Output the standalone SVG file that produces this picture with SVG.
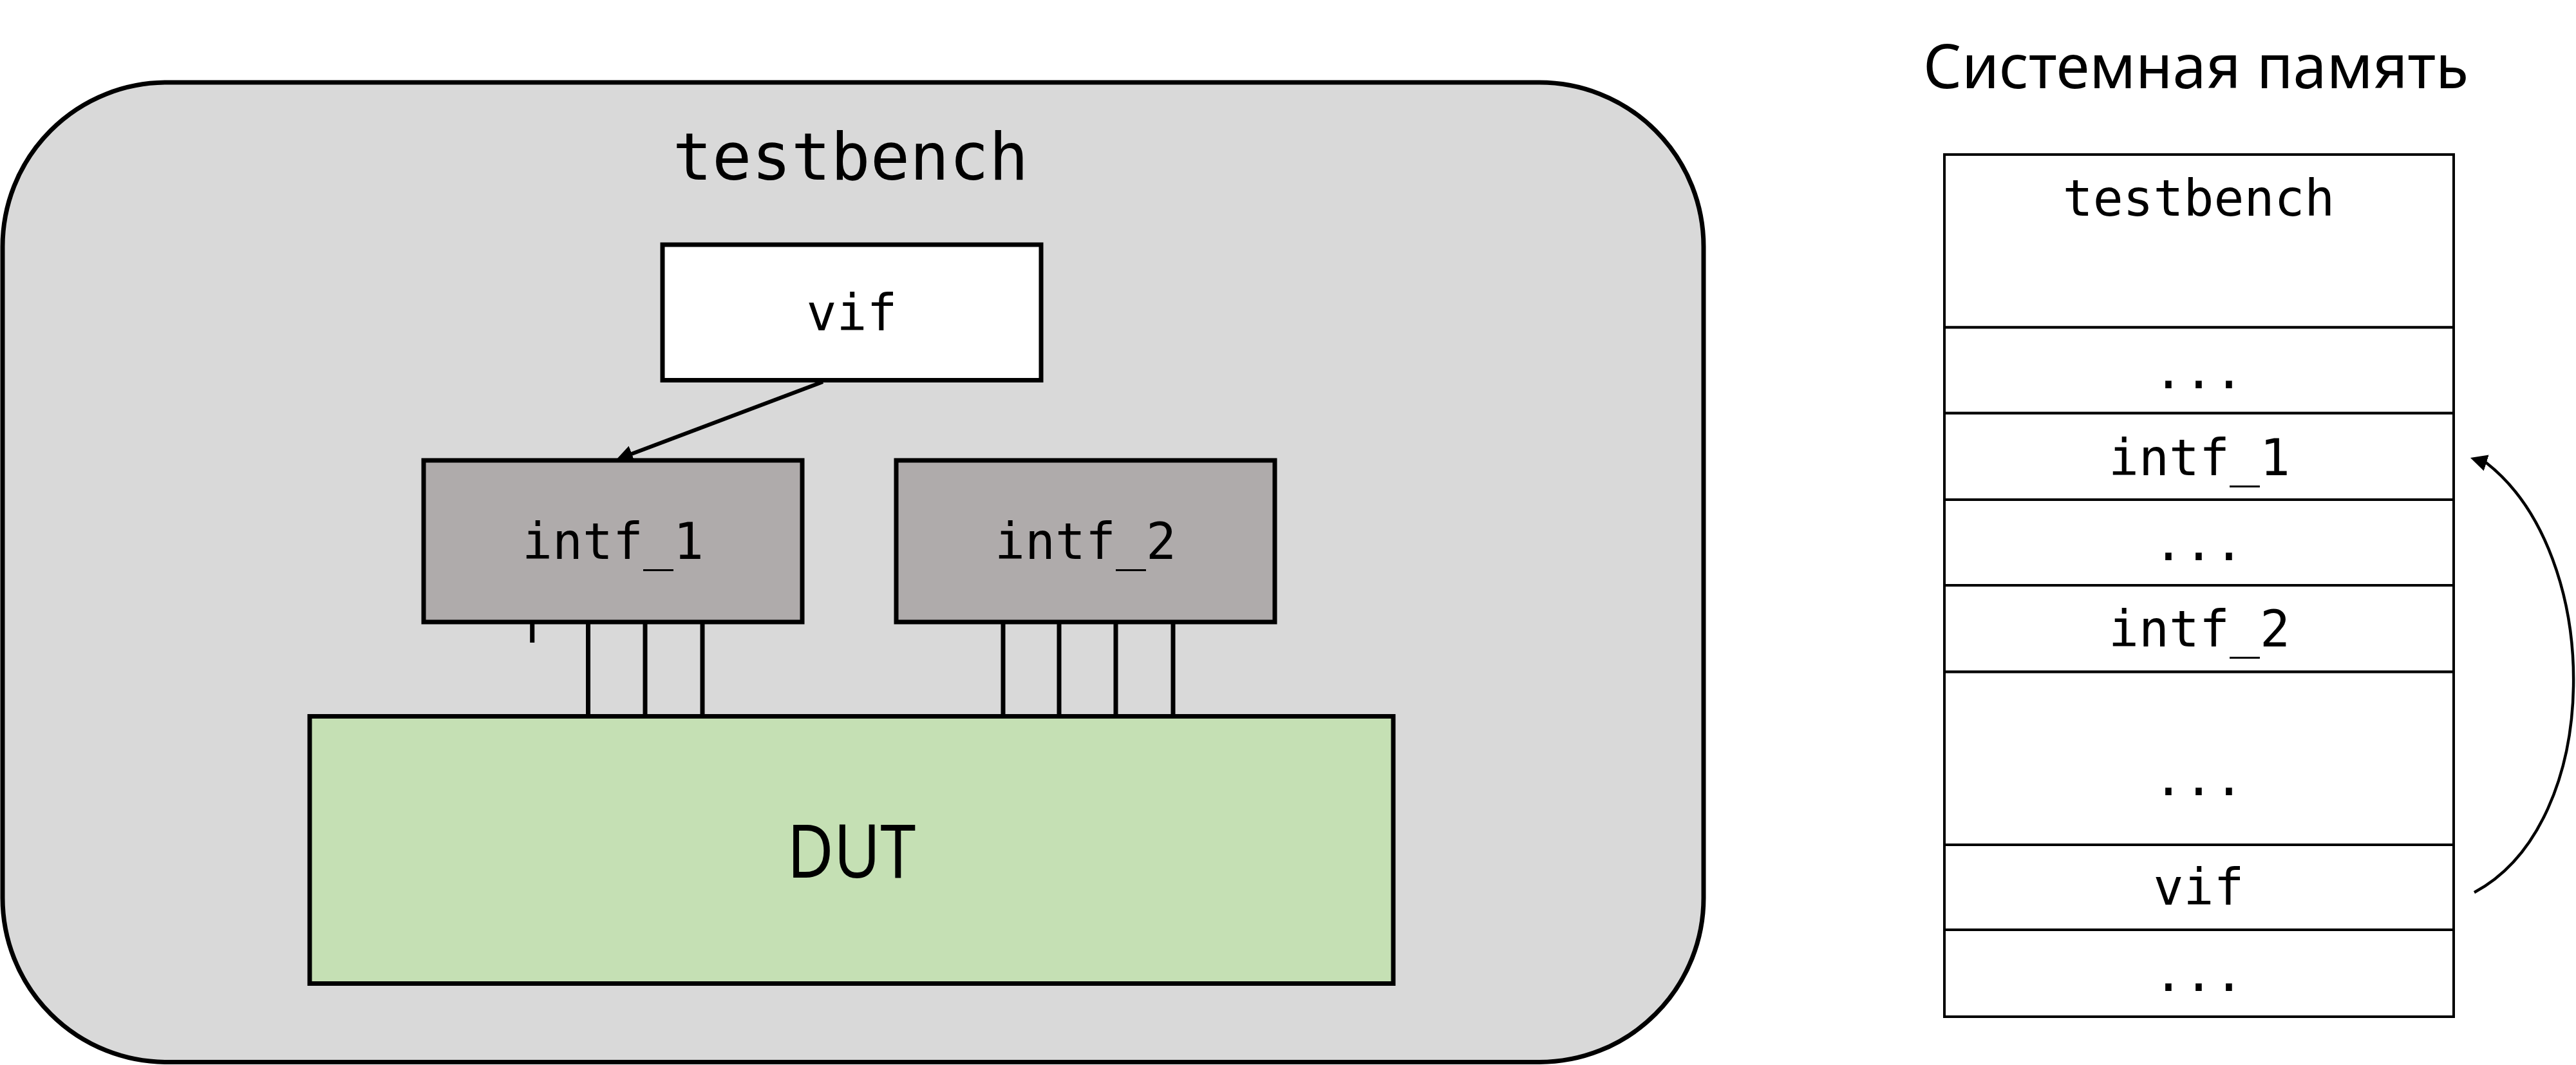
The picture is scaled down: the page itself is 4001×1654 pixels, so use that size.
<svg xmlns="http://www.w3.org/2000/svg" width="4001" height="1654" viewBox="0 0 4001 1654">
<style>
.box{stroke:#000;stroke-width:7}
.mono{font-family:"DejaVu Sans Mono","Liberation Mono",monospace;fill:#000;text-anchor:middle}
.wire{stroke:#000;stroke-width:7;fill:none}
.cell{fill:#fff;stroke:#000;stroke-width:4}
.conn{stroke:#000;fill:none}
</style>
<defs>
<marker id="ah" viewBox="0 0 26 26" markerWidth="26" markerHeight="26" markerUnits="userSpaceOnUse" refX="14" refY="13" orient="auto">
<path d="M0,0 L26,13 L0,26 Z" fill="#000"/>
</marker>
</defs>
<rect width="4001" height="1654" fill="#fff"/>
<g id="testbench">
<rect x="4" y="128" width="2642" height="1521.5" rx="255" ry="255" fill="#D9D9D9" stroke="#000" stroke-width="7"/>
<text class="mono" x="1321" y="278.5" font-size="102">testbench</text>
</g>
<g id="vif">
<rect class="box" x="1029" y="380" width="588" height="210.5" fill="#fff"/>
<text class="mono" x="1323" y="513" font-size="78">vif</text>
</g>
<g id="intf_1">
<rect class="box" x="658" y="715" width="588" height="251" fill="#AFABAB"/>
<text class="mono" x="952" y="868" font-size="78">intf_1</text>
</g>
<g id="intf_2">
<rect class="box" x="1392" y="715" width="588" height="251" fill="#AFABAB"/>
<text class="mono" x="1686" y="868" font-size="78">intf_2</text>
</g>
<g id="dut">
<rect class="box" x="481" y="1112.5" width="1683" height="415" fill="#C5E0B4"/>
<text x="1322.5" y="1363" font-family="'Noto Sans','Open Sans',sans-serif" font-size="115" text-anchor="middle" textLength="200" lengthAdjust="spacingAndGlyphs">DUT</text>
</g>
<g id="memory">
<text x="2987" y="136.5" font-family="'Noto Sans','Open Sans',sans-serif" font-size="95" textLength="847" lengthAdjust="spacingAndGlyphs">Системная память</text>
<rect class="cell" x="3020" y="240" width="791" height="268.5"/>
<rect class="cell" x="3020" y="508.5" width="791" height="133.2"/>
<rect class="cell" x="3020" y="641.7" width="791" height="134.3"/>
<rect class="cell" x="3020" y="776" width="791" height="133"/>
<rect class="cell" x="3020" y="909" width="791" height="134.5"/>
<rect class="cell" x="3020" y="1043.5" width="791" height="268.5"/>
<rect class="cell" x="3020" y="1312" width="791" height="132"/>
<rect class="cell" x="3020" y="1444" width="791" height="135"/>
<text class="mono" x="3415" y="335" font-size="78">testbench</text>
<text class="mono" x="3415" y="603" font-size="78">...</text>
<text class="mono" x="3416" y="738" font-size="78">intf_1</text>
<text class="mono" x="3415" y="870" font-size="78">...</text>
<text class="mono" x="3416" y="1004" font-size="78">intf_2</text>
<text class="mono" x="3415" y="1235" font-size="78">...</text>
<text class="mono" x="3415" y="1405" font-size="78">vif</text>
<text class="mono" x="3415" y="1539" font-size="78">...</text>
</g>
<g id="connectors">
<path class="wire" d="M826.7,966 V998 M913.5,966 V1112 M1002,966 V1112 M1091,966 V1112 M1558,966 V1112 M1645,966 V1112 M1733,966 V1112 M1822,966 V1112"/>
<path class="conn" stroke-width="6" d="M1278,593 L968.2,709.7" marker-end="url(#ah)"/>
<path class="conn" stroke-width="4.5" d="M3843,1386 C4046,1277 4044.5,862 3862,719 L3848.4,714.7" marker-end="url(#ah)"/>
</g>
</svg>
